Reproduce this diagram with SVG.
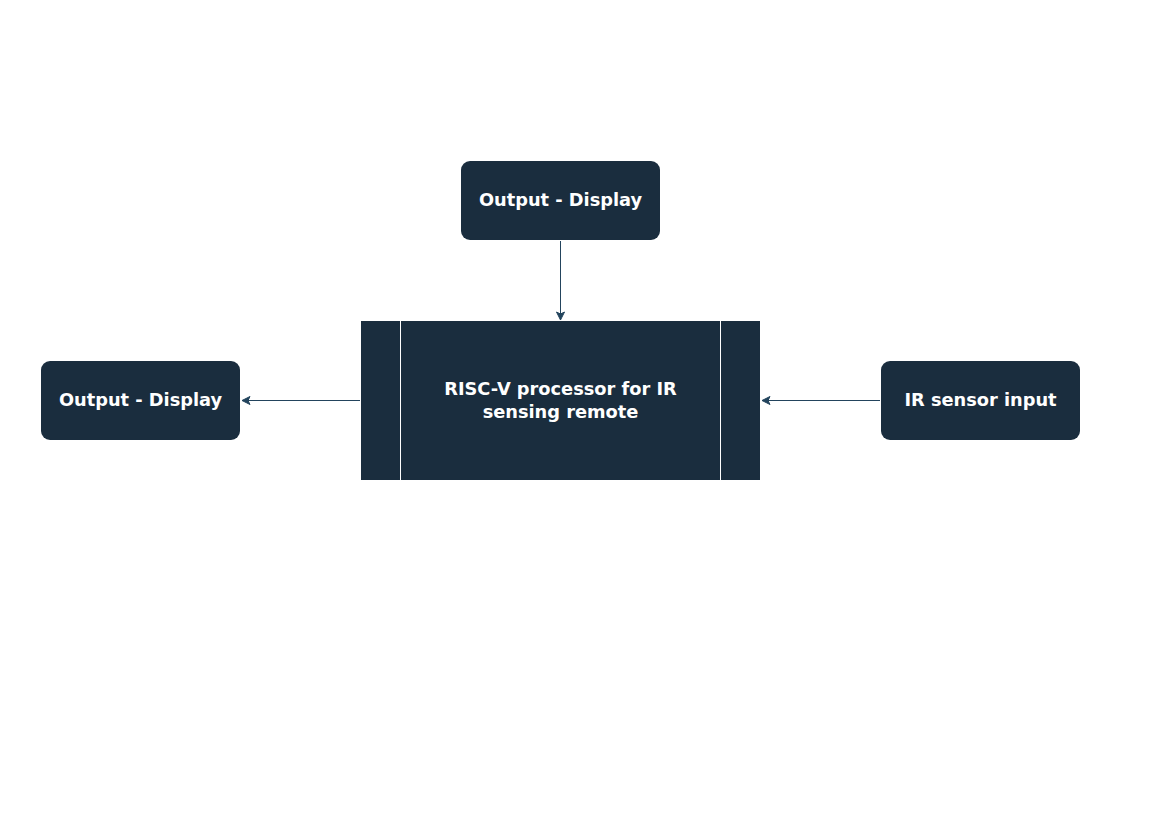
<svg xmlns="http://www.w3.org/2000/svg" width="1169" height="827" viewBox="0 0 1169 827">
<style>
.box{fill:#1a2d3e;}
.lbl{font-family:"DejaVu Sans",Verdana,sans-serif;font-weight:bold;font-size:17.8px;fill:#ffffff;text-anchor:middle;dominant-baseline:central;}
.edge{stroke:#23445d;stroke-width:1;fill:none;}
.div{stroke:#ffffff;stroke-width:1;}
</style>
<defs>
<marker id="arr" viewBox="0 0 10 10" refX="9" refY="5" markerWidth="10" markerHeight="10" markerUnits="userSpaceOnUse" orient="auto">
<path d="M1,1 L9,5 L1,9 L3,5 Z" fill="#23445d" stroke="#23445d" stroke-width="1" stroke-linejoin="miter"/>
</marker>
</defs>
<rect width="1169" height="827" fill="#ffffff"/>
<g id="edges">
<line class="edge" x1="560.5" y1="241" x2="560.5" y2="320" marker-end="url(#arr)"/>
<line class="edge" x1="360" y1="400.5" x2="242" y2="400.5" marker-end="url(#arr)"/>
<line class="edge" x1="880" y1="400.5" x2="762" y2="400.5" marker-end="url(#arr)"/>
</g>
<g id="top-display">
<rect class="box" x="461" y="161" width="199" height="79" rx="9"/>
<text class="lbl" x="560.5" y="199">Output - Display</text>
</g>
<g id="processor">
<rect class="box" x="361" y="321" width="399" height="159"/>
<line class="div" x1="400.5" y1="321" x2="400.5" y2="480"/>
<line class="div" x1="720.5" y1="321" x2="720.5" y2="480"/>
<text class="lbl" x="560.5" y="388">RISC-V processor for IR</text>
<text class="lbl" x="560.5" y="411">sensing remote</text>
</g>
<g id="left-display">
<rect class="box" x="41" y="361" width="199" height="79" rx="9"/>
<text class="lbl" x="140.5" y="399">Output - Display</text>
</g>
<g id="ir-sensor">
<rect class="box" x="881" y="361" width="199" height="79" rx="9"/>
<text class="lbl" x="980.5" y="399">IR sensor input</text>
</g>
</svg>
